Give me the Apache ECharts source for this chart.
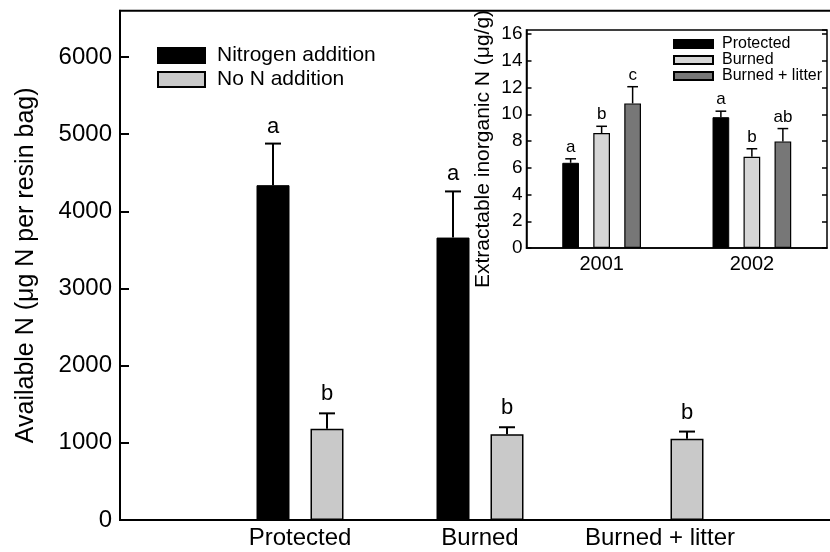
<!DOCTYPE html>
<html>
<head>
<meta charset="utf-8">
<script src="https://cdn.jsdelivr.net/npm/echarts@6/dist/echarts.min.js"></script>
<style>
html,body{margin:0;padding:0;background:#fff;}
#c{width:830px;height:552px;}
</style>
</head>
<body>
<div id="c"></div>
<script>
// ---------- main chart data ----------
const mainCategories = ['', 'Protected', 'Burned', 'Burned + litter', ''];
const nAddition = [null, 4339, 3660, null, null];
const nAdditionSE = [null, 539, 598, null, null];
const nAdditionLetters = ['', 'a', 'a', '', ''];
const noNAddition = [null, 1183, 1110, 1052, null];
const noNAdditionSE = [null, 199, 92, 94, null];
const noNAdditionLetters = ['', 'b', 'b', 'b', ''];
const mainSeriesNames = ['Nitrogen addition', 'No N addition'];

// ---------- inset data ----------
const insetYears = ['2001', '2002'];
const insetProtected = [6.37, 9.78];
const insetProtectedSE = [0.30, 0.45];
const insetProtectedLetters = ['a', 'a'];
const insetBurned = [8.60, 6.82];
const insetBurnedSE = [0.50, 0.60];
const insetBurnedLetters = ['b', 'b'];
const insetLitter = [10.81, 7.97];
const insetLitterSE = [1.25, 0.96];
const insetLitterLetters = ['c', 'ab'];
const insetSeriesNames = ['Protected', 'Burned', 'Burned + litter'];

const FONT = "'Liberation Sans', Arial, Helvetica, sans-serif";

// bar geometry (style)
const MAIN_BW = 33, MAIN_GAP = 21;
const INS_BW = 16.7, INS_GAP = 14.3;

function errSeries(name, vals, se, letters, xIdx, yIdx, offset, capW, lw, fontSize, txtGap) {
  const data = [];
  vals.forEach((v, i) => { if (v != null) data.push([i, v, se[i], letters[i]]); });
  return {
    type: 'custom', name: name, xAxisIndex: xIdx, yAxisIndex: yIdx, z: 5,
    silent: true,
    encode: { x: 0, y: 1 },
    data: data,
    renderItem: function (params, api) {
      const x = api.value(0), v = api.value(1), e = api.value(2);
      const letter = data[params.dataIndex][3];
      const b = api.coord([x, v]);
      const t = api.coord([x, v + e]);
      const cx = b[0] + offset;
      return {
        type: 'group',
        children: [
          { type: 'line', shape: { x1: cx, y1: b[1], x2: cx, y2: t[1] }, style: { stroke: '#000', lineWidth: lw } },
          { type: 'line', shape: { x1: cx - capW / 2, y1: t[1], x2: cx + capW / 2, y2: t[1] }, style: { stroke: '#000', lineWidth: lw } },
          { type: 'text', style: { text: letter, x: cx, y: t[1] - txtGap, align: 'center', verticalAlign: 'bottom', fontSize: fontSize, fontFamily: FONT, fill: '#000' } }
        ]
      };
    }
  };
}

const chart = echarts.init(document.getElementById('c'), null, { renderer: 'canvas' });

const plain = v => String(v);

const option = {
  backgroundColor: '#fff',
  animation: false,
  textStyle: { fontFamily: FONT, color: '#000' },
  legend: [
    {
      data: mainSeriesNames.map(n => ({ name: n, icon: 'rect' })),
      orient: 'vertical', left: 157, top: 45, padding: 0,
      itemWidth: 47, itemHeight: 15, itemGap: 3,
      textStyle: { fontSize: 21, color: '#000', fontFamily: FONT, padding: [0, 0, 0, 7] },
      selectedMode: false
    },
    {
      data: insetSeriesNames.map(n => ({ name: n, icon: 'rect' })),
      orient: 'vertical', left: 673, top: 36, padding: 0,
      itemWidth: 39, itemHeight: 8, itemGap: 0,
      textStyle: { fontSize: 16, color: '#000', fontFamily: FONT, padding: [0, 0, 0, 4] },
      selectedMode: false
    }
  ],
  grid: [
    { left: 120, width: 720, top: 10.7, bottom: 32, outerBoundsMode: 'none', containLabel: false, show: true, borderColor: '#000', borderWidth: 2, backgroundColor: 'transparent' },
    { left: 526.5, right: 3, top: 30, bottom: 304, outerBoundsMode: 'none', containLabel: false, show: true, borderColor: '#000', borderWidth: 1.5, backgroundColor: '#fff' }
  ],
  xAxis: [
    {
      gridIndex: 0, type: 'category', data: mainCategories, boundaryGap: false,
      axisLine: { lineStyle: { color: '#000', width: 2 } },
      axisTick: { show: false },
      axisLabel: { interval: 0, fontSize: 24, color: '#000', margin: 6, fontFamily: FONT }
    },
    {
      gridIndex: 1, type: 'category', data: insetYears,
      axisLine: { lineStyle: { color: '#000', width: 1.5 } },
      axisTick: { show: false },
      axisLabel: { fontSize: 20, color: '#000', margin: 6, fontFamily: FONT }
    }
  ],
  yAxis: [
    {
      gridIndex: 0, type: 'value', min: 0, max: 6600, interval: 1000,
      name: 'Available N (\u03bcg N per resin bag)', nameLocation: 'middle', nameGap: 81,
      nameTextStyle: { fontSize: 25, color: '#000', fontFamily: FONT },
      axisLine: { show: true, lineStyle: { color: '#000', width: 2 } },
      axisTick: { show: true, inside: true, length: 9, lineStyle: { color: '#000', width: 2 } },
      axisLabel: { fontSize: 24, color: '#000', margin: 8, showMaxLabel: false, fontFamily: FONT, formatter: plain },
      splitLine: { show: false }
    },
    {
      gridIndex: 1, type: 'value', min: 0, max: 16.3, interval: 2,
      name: 'Extractable inorganic N (\u03bcg/g)', nameLocation: 'middle', nameGap: 33,
      nameTextStyle: { fontSize: 21, color: '#000', fontFamily: FONT, padding: [0, 20, 0, 0] },
      axisLine: { show: true, lineStyle: { color: '#000', width: 1.5 } },
      axisTick: { show: true, inside: true, length: 5, lineStyle: { color: '#000', width: 1.5 } },
      axisLabel: { fontSize: 19, color: '#000', margin: 4, showMaxLabel: false, fontFamily: FONT, formatter: plain },
      splitLine: { show: false }
    },
    {
      gridIndex: 1, type: 'value', min: 0, max: 16.3, interval: 2, position: 'right',
      axisLine: { show: false },
      axisTick: { show: true, inside: true, length: 5, lineStyle: { color: '#000', width: 1.5 } },
      axisLabel: { show: false },
      splitLine: { show: false }
    }
  ],
  series: [
    {
      name: mainSeriesNames[0], type: 'bar', xAxisIndex: 0, yAxisIndex: 0,
      data: nAddition.map(v => v == null ? '-' : v),
      barWidth: MAIN_BW, barGap: (MAIN_GAP / MAIN_BW * 100) + '%',
      itemStyle: { color: '#000', borderColor: '#000', borderWidth: 1 }
    },
    {
      name: mainSeriesNames[1], type: 'bar', xAxisIndex: 0, yAxisIndex: 0,
      data: noNAddition.map(v => v == null ? '-' : v),
      barWidth: MAIN_BW, barGap: (MAIN_GAP / MAIN_BW * 100) + '%',
      itemStyle: { color: '#c9c9c9', borderColor: '#000', borderWidth: 1.5 }
    },
    errSeries('errN', nAddition, nAdditionSE, nAdditionLetters, 0, 0, -(MAIN_BW + MAIN_GAP) / 2, 16, 2, 22, 6),
    errSeries('errNoN', noNAddition, noNAdditionSE, noNAdditionLetters, 0, 0, (MAIN_BW + MAIN_GAP) / 2, 16, 2, 22, 8),
    {
      name: insetSeriesNames[0], type: 'bar', xAxisIndex: 1, yAxisIndex: 1,
      data: insetProtected, barWidth: INS_BW, barGap: (INS_GAP / INS_BW * 100) + '%',
      itemStyle: { color: '#000', borderColor: '#000', borderWidth: 1 }
    },
    {
      name: insetSeriesNames[1], type: 'bar', xAxisIndex: 1, yAxisIndex: 1,
      data: insetBurned, barWidth: INS_BW, barGap: (INS_GAP / INS_BW * 100) + '%',
      itemStyle: { color: '#d6d6d6', borderColor: '#000', borderWidth: 1.2 }
    },
    {
      name: insetSeriesNames[2], type: 'bar', xAxisIndex: 1, yAxisIndex: 1,
      data: insetLitter, barWidth: INS_BW, barGap: (INS_GAP / INS_BW * 100) + '%',
      itemStyle: { color: '#777777', borderColor: '#000', borderWidth: 1.2 }
    },
    errSeries('errP', insetProtected, insetProtectedSE, insetProtectedLetters, 1, 1, -(INS_BW + INS_GAP), 10.7, 1.5, 17, 3),
    errSeries('errB', insetBurned, insetBurnedSE, insetBurnedLetters, 1, 1, 0, 10.7, 1.5, 17, 3),
    errSeries('errL', insetLitter, insetLitterSE, insetLitterLetters, 1, 1, (INS_BW + INS_GAP), 10.7, 1.5, 17, 3)
  ]
};
chart.setOption(option);
</script>
</body>
</html>
